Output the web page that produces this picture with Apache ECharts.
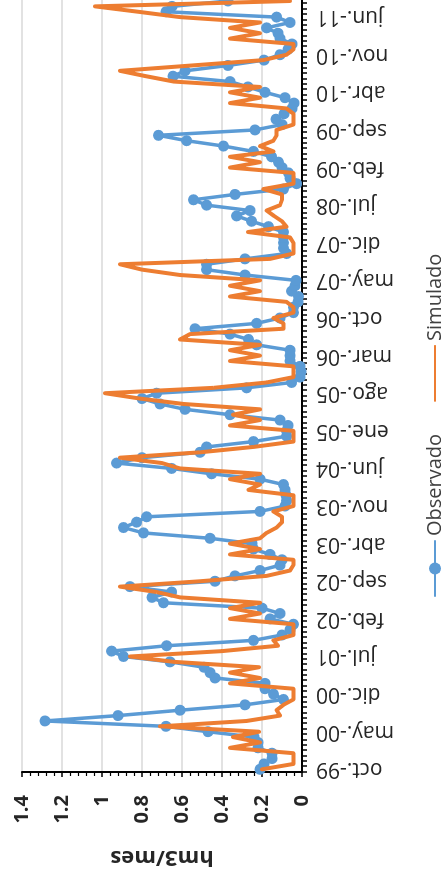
<!DOCTYPE html>
<html>
<head>
<meta charset="utf-8">
<script src="https://cdn.jsdelivr.net/npm/echarts@6/dist/echarts.min.js"></script>
<style>
html,body{margin:0;padding:0;width:448px;height:876px;overflow:hidden;background:#fff;}
#c{position:absolute;left:0;top:0;width:880px;height:448px;transform-origin:0 0;transform:translate(0px,876px) rotate(-90deg);}
</style>
</head>
<body>
<div id="c"></div>
<script>
// Spanish month abbreviations used for the category labels
const monthNames = ['ene.','feb.','mar.','abr.','may.','jun.','jul.','ago.','sep.','oct.','nov.','dic.'];
// categories: oct.-99 ... sep.-11 (monthly)
const categories = [];
(function(){
  let y = 1999, m = 9;
  for (let k = 0; k < 144; k++) {
    categories.push(monthNames[m] + '-' + String(y % 100).padStart(2, '0'));
    m++; if (m === 12) { m = 0; y++; }
  }
})();

const observado = [
0.21,0.19,0.15,0.15,0.22,0.22,0.24,0.47,0.68,1.285,
0.92,0.61,0.285,0.093,0.143,0.185,0.185,0.435,0.46,0.49,
0.66,0.893,0.952,0.677,0.243,0.10,0.06,0.043,0.16,0.11,
0.20,0.693,0.75,0.652,0.86,0.435,0.335,0.21,0.11,0.10,
0.16,0.243,0.25,0.46,0.793,0.893,0.827,0.777,0.21,0.085,
0.077,0.08,0.085,0.093,0.21,0.452,0.652,0.927,0.80,0.51,
0.477,0.243,0.077,0.077,0.07,0.11,0.36,0.585,0.71,0.80,
0.727,0.277,0.052,0.01,0.005,0.01,0.06,0.06,0.06,0.227,
0.268,0.36,0.535,0.227,0.11,0.043,0.043,0.02,0.018,0.052,
0.035,0.03,0.285,0.477,0.477,0.285,0.077,0.093,0.093,0.093,
0.093,0.168,0.252,0.327,0.26,0.477,0.543,0.335,0.093,0.027,
0.06,0.068,0.10,0.118,0.152,0.243,0.393,0.577,0.718,0.235,
0.10,0.13,0.09,0.05,0.04,0.085,0.185,0.27,0.36,0.645,
0.585,0.37,0.19,0.11,0.07,0.05,0.11,0.12,0.177,0.06,
0.127,0.68,0.65,0.37
];

const simulado = [
0.20,0.043,0.043,0.043,0.36,0.21,0.345,0.215,0.71,0.277,
0.11,0.127,0.093,0.043,0.043,0.043,0.36,0.21,0.36,0.215,
0.64,0.86,0.40,0.12,0.143,0.043,0.043,0.043,0.36,0.21,
0.36,0.21,0.61,0.727,0.91,0.51,0.177,0.06,0.043,0.043,
0.36,0.21,0.36,0.21,0.177,0.127,0.10,0.10,0.143,0.043,
0.043,0.043,0.268,0.21,0.36,0.21,0.61,0.70,0.91,0.51,
0.243,0.043,0.043,0.043,0.36,0.21,0.345,0.21,0.593,0.81,
0.985,0.443,0.177,0.043,0.043,0.043,0.36,0.21,0.36,0.21,
0.61,0.56,0.093,0.093,0.143,0.043,0.043,0.077,0.36,0.21,
0.36,0.21,0.61,0.80,0.91,0.16,0.043,0.043,0.043,0.06,
0.27,0.077,0.10,0.14,0.177,0.11,0.10,0.10,0.193,0.043,
0.043,0.043,0.36,0.21,0.36,0.143,0.21,0.143,0.127,0.127,
0.043,0.043,0.043,0.077,0.36,0.21,0.36,0.21,0.64,0.78,
0.91,0.55,0.193,0.077,0.043,0.043,0.36,0.21,0.36,0.21,
0.61,0.82,1.035,0.06
];

const valueTicks = { min: 0, max: 1.4, interval: 0.2 };

const FONT = '"Open Sans", "Noto Sans", sans-serif';
const chart = echarts.init(document.getElementById('c'), null, { renderer: 'canvas' });
chart.setOption({
  animation: false,
  backgroundColor: '#fff',
  grid: { left: 103, right: 2.3, top: 22, bottom: 146, containLabel: false },
  legend: {
    left: 274, top: 420, orient: 'horizontal',
    itemWidth: 55, itemHeight: 15, itemGap: 32,
    textStyle: { fontFamily: FONT, fontSize: 20, color: '#404040' },
    data: [
      { name: 'Observado' },
      { name: 'Simulado', itemStyle: { color: 'rgba(0,0,0,0)', opacity: 0, borderWidth: 0 } }
    ]
  },
  xAxis: {
    type: 'category', data: categories, boundaryGap: true,
    axisLine: { lineStyle: { color: '#000', width: 2 } },
    axisTick: { show: true, interval: 0, length: 5, lineStyle: { color: '#000', width: 1.5 } },
    axisLabel: { interval: 6, rotate: 90, margin: 14, fontFamily: FONT, fontSize: 21, color: '#262626' },
    splitLine: { show: false }
  },
  yAxis: {
    type: 'value', min: valueTicks.min, max: valueTicks.max, interval: valueTicks.interval,
    name: 'hm3/mes', nameLocation: 'middle', nameGap: 74,
    nameTextStyle: { fontFamily: FONT, fontSize: 22, fontWeight: 'bold', color: '#262626' },
    axisLine: { show: true, lineStyle: { color: '#000', width: 2 } },
    axisTick: { show: true, length: 5, lineStyle: { color: '#000', width: 1.5 } },
    minorTick: { show: true, splitNumber: 5, length: 4, lineStyle: { color: '#000', width: 1.2 } },
    axisLabel: { margin: 23, fontFamily: FONT, fontSize: 20, fontWeight: 'bold', color: '#262626' },
    splitLine: { show: true, lineStyle: { color: '#d9d9d9', width: 1.5 } }
  },
  series: [
    {
      name: 'Observado', type: 'line', data: observado,
      symbol: 'circle', symbolSize: 11, showAllSymbol: true,
      itemStyle: { color: '#5B9BD5' },
      lineStyle: { color: '#5B9BD5', width: 3.5, join: 'round', cap: 'round' },
      z: 2
    },
    {
      name: 'Simulado', type: 'line', data: simulado,
      symbol: 'none', showSymbol: false,
      itemStyle: { color: '#ED7D31' },
      lineStyle: { color: '#ED7D31', width: 4, join: 'round', cap: 'round' },
      z: 3
    }
  ]
});
</script>
</body>
</html>
